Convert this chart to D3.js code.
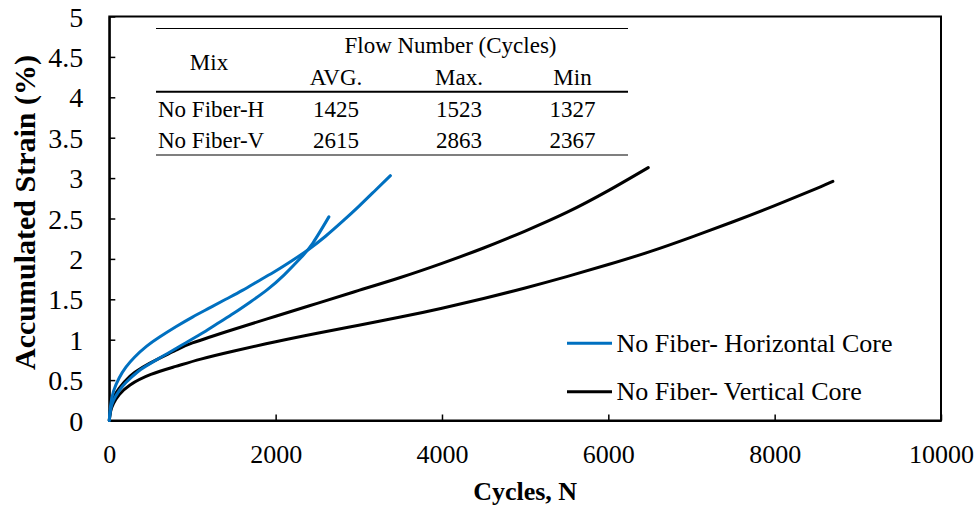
<!DOCTYPE html>
<html>
<head>
<meta charset="utf-8">
<script src="https://cdn.jsdelivr.net/npm/d3@7"></script>
<style>
  html, body { margin: 0; padding: 0; background: #fff; }
  svg { display: block; font-family: "Liberation Serif", "Times New Roman", serif; }
</style>
</head>
<body>
<svg id="chart" width="979" height="506"></svg>
<script>
// Axis ticks
const xTicks = [0, 2000, 4000, 6000, 8000, 10000];
const yTicks = [0, 0.5, 1, 1.5, 2, 2.5, 3, 3.5, 4, 4.5, 5];

// Accumulated strain (%) vs load cycles, two horizontal cores and two vertical cores
const cyclesH1 = [0, 15, 50, 120, 200, 300, 450, 600, 800, 1000, 1200, 1400, 1600, 1800, 2000, 2200, 2400, 2600, 2800, 3000, 3200, 3380];
const strainH1 = [0, 0.18, 0.36, 0.53, 0.66, 0.78, 0.92, 1.03, 1.16, 1.28, 1.39, 1.50, 1.61, 1.73, 1.85, 1.98, 2.12, 2.28, 2.46, 2.65, 2.85, 3.03];

const cyclesH2 = [0, 15, 50, 120, 200, 350, 500, 700, 900, 1100, 1300, 1500, 1700, 1900, 2100, 2300, 2450, 2640];
const strainH2 = [0, 0.13, 0.25, 0.37, 0.47, 0.61, 0.71, 0.83, 0.95, 1.07, 1.20, 1.33, 1.47, 1.62, 1.80, 2.01, 2.20, 2.52];

const cyclesV1 = [0, 15, 50, 120, 250, 400, 600, 800, 1000, 1500, 2000, 2500, 3000, 3500, 4000, 4500, 5000, 5500, 6000, 6480];
const strainV1 = [0, 0.15, 0.28, 0.40, 0.55, 0.66, 0.77, 0.87, 0.96, 1.13, 1.29, 1.45, 1.61, 1.77, 1.945, 2.135, 2.345, 2.575, 2.845, 3.13];

const cyclesV2 = [0, 15, 50, 120, 250, 500, 800, 1100, 1500, 2000, 2500, 3000, 3500, 4000, 4500, 5000, 5500, 6000, 6500, 7000, 7500, 8000, 8500, 8700];
const strainV2 = [0, 0.11, 0.21, 0.32, 0.44, 0.57, 0.67, 0.76, 0.86, 0.975, 1.08, 1.18, 1.28, 1.39, 1.51, 1.64, 1.78, 1.93, 2.09, 2.27, 2.46, 2.66, 2.87, 2.96];

// Legend entries
const legendLabels = ["No Fiber- Horizontal Core", "No Fiber- Vertical Core"];
const legendColors = ["#0070C0", "#000000"];

// Flow number summary table
const tableTitle = "Flow Number (Cycles)";
const tableMixHeader = "Mix";
const tableColumns = ["AVG.", "Max.", "Min"];
const tableMixes = ["No Fiber-H", "No Fiber-V"];
const flowAvg = [1425, 2615];
const flowMax = [1523, 2863];
const flowMin = [1327, 2367];

const serif = "Liberation Serif, Times New Roman, serif";
const svg = d3.select("#chart").attr("font-family", serif);
const plot = { left: 109.3, right: 941, top: 16.5, bottom: 420.5 };

const x = d3.scaleLinear().domain([0, 10000]).range([plot.left, plot.right]);
const y = d3.scaleLinear().domain([0, 5]).range([plot.bottom, plot.top]);

// Plot frame
svg.append("rect")
  .attr("x", plot.left).attr("y", plot.top)
  .attr("width", plot.right - plot.left).attr("height", plot.bottom - plot.top)
  .attr("fill", "none").attr("stroke", "#000").attr("stroke-width", 2);

// X axis: ticks point inward, labels below
const xAxis = d3.axisBottom(x).tickValues(xTicks).tickSizeInner(-6).tickSizeOuter(0)
  .tickFormat(d3.format("d"));
const gx = svg.append("g").attr("transform", `translate(0,${plot.bottom})`).call(xAxis)
  .attr("font-family", serif);
gx.select(".domain").attr("stroke", "#000").attr("stroke-width", 2);
gx.selectAll(".tick line").attr("stroke", "#000").attr("stroke-width", 1.5);
gx.selectAll(".tick text")
  .attr("font-size", 26).attr("fill", "#000")
  .attr("dy", null).attr("y", 42.5);

// Y axis: ticks point inward, labels left
const yAxis = d3.axisLeft(y).tickValues(yTicks).tickSizeInner(-6).tickSizeOuter(0)
  .tickFormat(d => String(d));
const gy = svg.append("g").attr("transform", `translate(${plot.left},0)`).call(yAxis)
  .attr("font-family", serif);
gy.select(".domain").attr("stroke", "#000").attr("stroke-width", 2);
gy.selectAll(".tick line").attr("stroke", "#000").attr("stroke-width", 1.5);
gy.selectAll(".tick text")
  .attr("font-size", 28).attr("fill", "#000")
  .attr("x", -26).attr("dy", "0.34em");

// Axis titles
svg.append("text")
  .attr("x", (plot.left + plot.right) / 2).attr("y", 500)
  .attr("text-anchor", "middle").attr("font-weight", "bold").attr("font-size", 26)
  .text("Cycles, N");
svg.append("text")
  .attr("transform", "translate(35,212.5) rotate(-90)")
  .attr("text-anchor", "middle").attr("font-weight", "bold").attr("font-size", 30)
  .text("Accumulated Strain (%)");

// Curves
const line = d3.line()
  .x(d => x(d[0])).y(d => y(d[1]))
  .curve(d3.curveNatural);

const series = [
  { cycles: cyclesV2, strain: strainV2, color: legendColors[1] },
  { cycles: cyclesV1, strain: strainV1, color: legendColors[1] },
  { cycles: cyclesH2, strain: strainH2, color: legendColors[0] },
  { cycles: cyclesH1, strain: strainH1, color: legendColors[0] }
];

svg.append("g").selectAll("path")
  .data(series)
  .join("path")
  .attr("d", s => line(d3.zip(s.cycles, s.strain)))
  .attr("fill", "none")
  .attr("stroke", s => s.color)
  .attr("stroke-width", 3)
  .attr("stroke-linecap", "round")
  .attr("stroke-linejoin", "round");

// Legend
const legend = svg.append("g");
legendLabels.forEach((label, i) => {
  const ly = 343.3 + i * 48.4;
  legend.append("line")
    .attr("x1", 567).attr("x2", 612).attr("y1", ly).attr("y2", ly)
    .attr("stroke", legendColors[i]).attr("stroke-width", 3);
  legend.append("text")
    .attr("x", 616.5).attr("y", ly + 8.6)
    .attr("font-size", 26).attr("fill", "#000")
    .text(label);
});

// Summary table
const table = svg.append("g").attr("font-size", 23).attr("fill", "#000");
const tLeft = 156, tRight = 628;
const colX = [336, 459, 572.5];
table.append("line").attr("x1", tLeft).attr("x2", tRight).attr("y1", 28.5).attr("y2", 28.5)
  .attr("stroke", "#000").attr("stroke-width", 1.2);
table.append("line").attr("x1", tLeft).attr("x2", tRight).attr("y1", 91.7).attr("y2", 91.7)
  .attr("stroke", "#000").attr("stroke-width", 2);
table.append("line").attr("x1", tLeft).attr("x2", tRight).attr("y1", 155).attr("y2", 155)
  .attr("stroke", "#000").attr("stroke-width", 1.2);

table.append("text").attr("x", 450.5).attr("y", 53.3).attr("text-anchor", "middle").text(tableTitle);
table.append("text").attr("x", 209).attr("y", 70).attr("text-anchor", "middle").text(tableMixHeader);
tableColumns.forEach((c, i) => {
  table.append("text").attr("x", colX[i]).attr("y", 85).attr("text-anchor", "middle").text(c);
});
const rowY = [116.7, 148];
tableMixes.forEach((m, r) => {
  table.append("text").attr("x", 158).attr("y", rowY[r]).text(m);
  [flowAvg[r], flowMax[r], flowMin[r]].forEach((v, i) => {
    table.append("text").attr("x", colX[i]).attr("y", rowY[r]).attr("text-anchor", "middle").text(v);
  });
});
</script>
</body>
</html>
